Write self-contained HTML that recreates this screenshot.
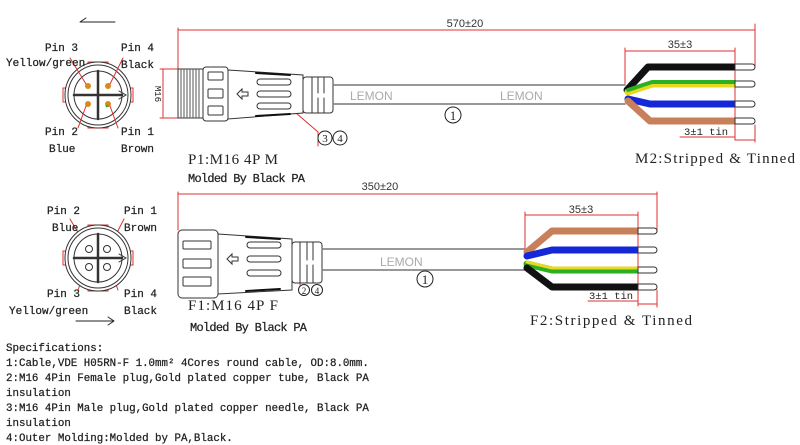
<!DOCTYPE html>
<html><head><meta charset="utf-8"><style>
html,body{margin:0;padding:0;background:#fff}
svg{display:block}
.s{font-family:"Liberation Mono","Noto Sans CJK SC",monospace;fill:#222}
.r{font-family:"Liberation Serif","Noto Serif CJK SC",serif;fill:#222}
.a{font-family:"Liberation Sans",sans-serif;}
</style></head><body>
<svg width="800" height="445" viewBox="0 0 800 445" xmlns="http://www.w3.org/2000/svg">
<g fill="none" stroke-linecap="round">
<g stroke="#e03030" stroke-width="1">
<line x1="178" y1="30" x2="755" y2="30"/><line x1="178" y1="28" x2="178" y2="72"/><line x1="755" y1="24" x2="755" y2="67"/>
<line x1="625" y1="51" x2="735" y2="51"/><line x1="625" y1="48" x2="625" y2="84"/><line x1="735" y1="48" x2="735" y2="140"/>
<line x1="735" y1="140" x2="755" y2="140"/><line x1="755" y1="125" x2="755" y2="142"/>
<line x1="680" y1="137" x2="735" y2="137"/>
<line x1="178" y1="69" x2="160" y2="69"/><line x1="178" y1="118" x2="160" y2="118"/><line x1="163" y1="69" x2="163" y2="118"/>
<line x1="178" y1="194" x2="657" y2="194"/><line x1="178" y1="192" x2="178" y2="230"/><line x1="657" y1="192" x2="657" y2="232"/>
<line x1="525" y1="215" x2="638" y2="215"/><line x1="525" y1="212" x2="525" y2="248"/><line x1="638" y1="212" x2="638" y2="306"/>
<line x1="638" y1="304" x2="657" y2="304"/><line x1="657" y1="290" x2="657" y2="307"/>
<line x1="588" y1="301" x2="638" y2="301"/>
<line x1="296" y1="113" x2="318" y2="132"/><line x1="318" y1="132" x2="318" y2="146"/>
<line x1="287" y1="272" x2="300" y2="280"/><line x1="300" y1="280" x2="300" y2="285"/>
</g>
<g stroke="#333" stroke-width="1">
<rect x="178" y="69" width="25" height="49" fill="#fff"/>
<path d="M181 69V118M184 69V118M187 69V118M190 69V118M193 69V118M196 69V118M199 69V118" stroke="#555"/>
<rect x="203" y="67" width="25" height="54" rx="3" fill="#fff"/>
<rect x="208" y="72" width="15" height="8" rx="1"/><rect x="208" y="89" width="15" height="9" rx="1"/><rect x="208" y="106" width="15" height="9" rx="1"/>
<path d="M228 70L303 75V113L228 119Z" fill="#fff"/>
<rect x="257" y="79" width="34" height="6" rx="3"/><rect x="257" y="91" width="34" height="6" rx="3"/><rect x="257" y="103" width="34" height="6" rx="3"/>
<path d="M256 73L290 75M256 116L290 114" stroke="#111" stroke-width="2"/>
<path d="M237 94l5-5v3h6v4h-6v3z"/>
<rect x="303" y="77" width="30" height="36" rx="3" fill="#fff"/>
<path d="M312 77V113M318 77V93M318 98V113M324 77V93M324 98V113"/>
</g>
<line x1="333" y1="85" x2="625" y2="85" stroke="#777" stroke-width="1.5"/>
<line x1="333" y1="104" x2="625" y2="104" stroke="#777" stroke-width="1.5"/>
<g stroke-width="7" stroke-linejoin="round">
<path d="M627 90L648 67H735" stroke="#111"/>
<path d="M628 92L652 84H735" stroke="#e8d820"/>
<path d="M628 90L652 82H735" stroke="#2ab020" stroke-width="4"/>
<path d="M628 99L650 104H735" stroke="#1428d8"/>
<path d="M628 101L650 121H735" stroke="#c8805a"/>
</g>
<g stroke="#333" stroke-width="1" fill="#fff">
<path d="M735 64H752a3 3 0 0 1 0 6H735Z"/><path d="M735 81H752a3 3 0 0 1 0 6H735Z"/><path d="M735 101H752a3 3 0 0 1 0 6H735Z"/><path d="M735 118H752a3 3 0 0 1 0 6H735Z"/>
</g>
<circle cx="453" cy="115" r="8" stroke="#222"/>
<circle cx="325" cy="138" r="7" stroke="#222"/><circle cx="340" cy="138" r="7" stroke="#222"/>
<g stroke="#333" stroke-width="1">
<rect x="178" y="230" width="40" height="68" rx="4" fill="#fff"/>
<rect x="183" y="241" width="28" height="8" rx="1"/><rect x="183" y="259" width="28" height="9" rx="1"/><rect x="183" y="277" width="28" height="9" rx="1"/>
<path d="M218 234L292 239V290L218 294Z" fill="#fff"/>
<rect x="247" y="242" width="34" height="6" rx="3"/><rect x="247" y="256" width="34" height="6" rx="3"/><rect x="247" y="270" width="34" height="6" rx="3"/>
<path d="M246 237L280 239M246 291L280 289" stroke="#111" stroke-width="2"/>
<path d="M227 259l5-5v3h6v4h-6v3z"/>
<rect x="292" y="242" width="30" height="41" rx="3" fill="#fff"/>
<path d="M300 242V283M307 242V260M307 265V283M313 242V260M313 265V283"/>
</g>
<line x1="322" y1="249" x2="525" y2="249" stroke="#777" stroke-width="1.5"/>
<line x1="322" y1="270" x2="525" y2="270" stroke="#777" stroke-width="1.5"/>
<g stroke-width="7" stroke-linejoin="round">
<path d="M527 252L552 231H638" stroke="#c8805a"/>
<path d="M527 256L552 250H638" stroke="#1428d8"/>
<path d="M527 264L552 270H638" stroke="#2ab020"/>
<path d="M527 262L552 268H638" stroke="#e8d820" stroke-width="3"/>
<path d="M527 268L552 287H638" stroke="#111"/>
</g>
<g stroke="#333" stroke-width="1" fill="#fff">
<path d="M638 228H654a3 3 0 0 1 0 6H638Z"/><path d="M638 247H654a3 3 0 0 1 0 6H638Z"/><path d="M638 267H654a3 3 0 0 1 0 6H638Z"/><path d="M638 284H654a3 3 0 0 1 0 6H638Z"/>
</g>
<circle cx="425" cy="279" r="8" stroke="#222"/>
<circle cx="304" cy="290" r="5.5" stroke="#222"/><circle cx="317" cy="290" r="5.5" stroke="#222"/>
<g stroke="#333" stroke-width="1">
<path d="M88 62h20v4h-20zM88 124h20v4h-20zM63 88v14h4v-14zM129 88v14h4v-14z" stroke="#e03030" fill="#fff"/>
<circle cx="98" cy="95" r="33" fill="#fff"/><circle cx="98" cy="95" r="30"/><circle cx="98" cy="95" r="24"/>
<path d="M74 95H122M98 71V119" stroke-width="2.5"/>
<path d="M119 91L126 95L119 99" />
</g>
<circle cx="88" cy="86" r="3" fill="#d88a20"/><circle cx="108" cy="86" r="3" fill="#d88a20"/><circle cx="88" cy="104" r="3" fill="#d88a20"/><circle cx="108" cy="104" r="3" fill="#d88a20"/><circle cx="107" cy="106" r="1.3" fill="#2ab020"/>
<g stroke="#e03030" stroke-width="1">
<path d="M70 58L86 84M123 58L110 84M78 128L86 106M118 128L110 106"/>
<path d="M70 219L86 246M124 219L110 246M78 290L86 268M118 290L110 268"/>
</g>
<g transform="translate(0,163)" stroke="#333" stroke-width="1">
<path d="M88 62h20v4h-20zM88 124h20v4h-20zM63 88v14h4v-14zM129 88v14h4v-14z" stroke="#e03030" fill="#fff"/>
<circle cx="98" cy="95" r="33" fill="#fff"/><circle cx="98" cy="95" r="30"/><circle cx="98" cy="95" r="24"/>
<path d="M74 95H122M98 71V119" stroke-width="2.5"/>
<path d="M119 91L126 95L119 99"/>
<circle cx="89" cy="86" r="3.5" fill="#fff"/><circle cx="107" cy="86" r="3.5" fill="#fff"/><circle cx="89" cy="104" r="3.5" fill="#fff"/><circle cx="107" cy="104" r="3.5" fill="#fff"/>
</g>
<path d="M80 22H115M80 22l6-4" stroke="#222"/>
<path d="M76 321H114M114 321l-6-4M114 321l-6 4" stroke="#222"/>
</g>
<g class="s" font-size="11" stroke="#222" stroke-width="0.25">
<text x="45" y="51">Pin 3</text><text x="6" y="66">Yellow/green</text>
<text x="121" y="51">Pin 4</text><text x="121" y="68">Black</text>
<text x="45" y="135">Pin 2</text><text x="49" y="152">Blue</text>
<text x="121" y="135">Pin 1</text><text x="121" y="152">Brown</text>
<text x="47" y="214">Pin 2</text><text x="52" y="231">Blue</text>
<text x="124" y="214">Pin 1</text><text x="124" y="231">Brown</text>
<text x="47" y="297">Pin 3</text><text x="9" y="314">Yellow/green</text>
<text x="124" y="297">Pin 4</text><text x="124" y="314">Black</text>
<text x="188" y="182" font-size="12" textLength="117">Molded By Black PA</text>
<text x="190" y="331" font-size="12" textLength="117">Molded By Black PA</text>
<text x="155" y="94" font-size="9" transform="rotate(90 155 94)" text-anchor="middle" stroke="none">M16</text>
</g>
<g class="s" font-size="10.8" stroke="#222" stroke-width="0.25">
<text x="6" y="351">Specifications:</text>
<text x="6" y="366">1:Cable,VDE H05RN-F 1.0mm² 4Cores round cable, OD:8.0mm.</text>
<text x="6" y="381">2:M16 4Pin Female plug,Gold plated copper tube, Black PA</text>
<text x="6" y="396">insulation</text>
<text x="6" y="411">3:M16 4Pin Male plug,Gold plated copper needle, Black PA</text>
<text x="6" y="426">insulation</text>
<text x="6" y="441">4:Outer Molding:Molded by PA,Black.</text>
</g>
<g class="r">
<text x="188" y="164" font-size="15" textLength="90">P1:M16 4P M</text>
<text x="188" y="310" font-size="15" textLength="90">F1:M16 4P F</text>
<text x="635" y="163" font-size="15" textLength="160">M2:Stripped &amp; Tinned</text>
<text x="530" y="325" font-size="15" textLength="162">F2:Stripped &amp; Tinned</text>
<text x="453" y="120" font-size="13" text-anchor="middle">1</text>
<text x="425" y="284" font-size="13" text-anchor="middle">1</text>
<text x="325" y="142" font-size="11" text-anchor="middle">3</text><text x="340" y="142" font-size="11" text-anchor="middle">4</text>
<text x="304" y="294" font-size="9" text-anchor="middle">2</text><text x="317" y="294" font-size="9" text-anchor="middle">4</text>
</g>
<g class="a" font-size="11" fill="#333">
<text x="465" y="27" text-anchor="middle">570±20</text>
<text x="680" y="48" text-anchor="middle">35±3</text>
<text x="380" y="190" text-anchor="middle">350±20</text>
<text x="581" y="213" text-anchor="middle">35±3</text>
</g>
<g class="s" font-size="10.5">
<text x="684" y="135">3±1 tin</text>
<text x="589" y="299">3±1 tin</text>
</g>
<g class="a" font-size="12" fill="#aaa">
<text x="350" y="100">LEMON</text><text x="500" y="100">LEMON</text><text x="380" y="266">LEMON</text>
</g>
</svg>
</body></html>
